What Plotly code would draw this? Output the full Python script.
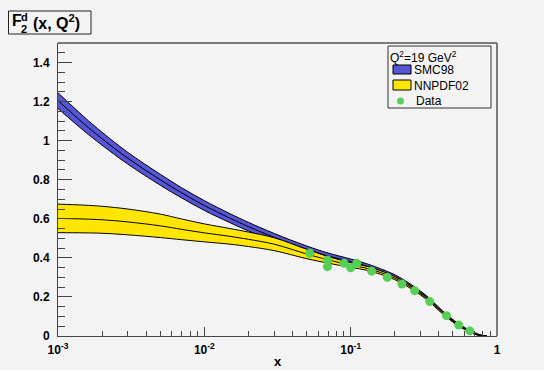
import plotly.graph_objects as go

# ---------------- data ----------------
x_grid = [0.001, 0.0015, 0.002, 0.003, 0.005, 0.007, 0.01, 0.015, 0.02, 0.03,
          0.05, 0.07, 0.1, 0.13, 0.16, 0.2, 0.25, 0.3, 0.35, 0.4, 0.45, 0.5,
          0.55, 0.6, 0.65, 0.7, 0.75, 0.8, 0.85]

smc98_central = [1.205, 1.087, 1.010, 0.910, 0.800, 0.733, 0.668, 0.603, 0.560, 0.505,
                 0.444, 0.410, 0.381, 0.357, 0.333, 0.304, 0.262, 0.222, 0.182, 0.140,
                 0.106, 0.078, 0.056, 0.039, 0.025, 0.014, 0.006, 0.001, 0.0]
smc98_error = [0.040, 0.036, 0.033, 0.030, 0.028, 0.026, 0.025, 0.023, 0.022, 0.020,
               0.017, 0.015, 0.013, 0.012, 0.011, 0.010, 0.009, 0.008, 0.008, 0.007,
               0.006, 0.006, 0.005, 0.005, 0.004, 0.004, 0.003, 0.002, 0.002]

nnpdf02_central = [0.602, 0.599, 0.595, 0.584, 0.564, 0.546, 0.528, 0.510, 0.495, 0.470,
                   0.420, 0.390, 0.363, 0.346, 0.325, 0.297, 0.256, 0.216, 0.177, 0.136,
                   0.103, 0.075, 0.053, 0.037, 0.024, 0.013, 0.005, 0.001, 0.0]
nnpdf02_error = [0.073, 0.071, 0.069, 0.066, 0.060, 0.053, 0.046, 0.040, 0.037, 0.033,
                 0.024, 0.017, 0.012, 0.010, 0.009, 0.008, 0.007, 0.006, 0.006, 0.005,
                 0.005, 0.004, 0.004, 0.003, 0.003, 0.002, 0.002, 0.001, 0.001]

data_x = [0.0525, 0.0694, 0.0694, 0.0901, 0.100, 0.110, 0.139, 0.178, 0.224,
          0.274, 0.347, 0.452, 0.548, 0.652]
data_y = [0.423, 0.389, 0.355, 0.372, 0.349, 0.372, 0.332, 0.300, 0.266,
          0.232, 0.176, 0.104, 0.056, 0.026]

x_tickvals = [0.001, 0.01, 0.1, 1]
x_ticktext = ["10<sup>-3</sup>", "10<sup>-2</sup>", "10<sup>-1</sup>", "1"]
x_minor = [m * d for d in (0.001, 0.01, 0.1) for m in range(2, 10)]

# ---------------- style ----------------
BG = "#f3f3f3"
BLUE = "#5555d5"
YELLOW = "#ffe600"
GREEN = "#55d055"
FONT = "Liberation Sans, Arial, sans-serif"

W, H = 544, 370
L, R, T, B = 58, 497, 43, 336


def pxx(x):
    return (x - L) / (R - L)


def pxy(y):
    return (B - y) / (B - T)


fig = go.Figure()

line_black = dict(color="black", width=1, shape="spline", smoothing=1.0)


def add_band(center, err, color):
    lo = [c - e for c, e in zip(center, err)]
    hi = [c + e for c, e in zip(center, err)]
    fig.add_trace(go.Scatter(x=x_grid, y=lo, mode="lines", line=line_black,
                             showlegend=False, hoverinfo="skip"))
    fig.add_trace(go.Scatter(x=x_grid, y=hi, mode="lines", line=line_black,
                             fill="tonexty", fillcolor=color,
                             showlegend=False, hoverinfo="skip"))
    fig.add_trace(go.Scatter(x=x_grid, y=center, mode="lines", line=line_black,
                             showlegend=False, hoverinfo="skip"))


add_band(smc98_central, smc98_error, BLUE)
add_band(nnpdf02_central, nnpdf02_error, YELLOW)

fig.add_trace(go.Scatter(x=data_x, y=data_y, mode="markers",
                         marker=dict(color=GREEN, size=9, line=dict(width=0)),
                         showlegend=False))

axis_font = dict(family=FONT, size=12, color="black", weight="bold")

fig.update_layout(
    width=W, height=H,
    margin=dict(l=L, r=W - R, t=T, b=H - B, autoexpand=False),
    paper_bgcolor=BG, plot_bgcolor=BG,
    showlegend=False,
    xaxis=dict(type="log", range=[-3, 0], tickvals=x_tickvals, ticktext=x_ticktext,
               automargin=False,
               ticks="inside", ticklen=9, tickcolor="#444", tickwidth=1,
               ticklabelstandoff=3,
               minor=dict(tickvals=x_minor, ticks="inside", ticklen=5,
                          tickcolor="#444", tickwidth=1, showgrid=False),
               showgrid=False, zeroline=False, showline=True, linecolor="#444",
               linewidth=1, tickfont=axis_font),
    yaxis=dict(range=[0, 1.5], tick0=0, dtick=0.2, automargin=False,
               ticks="inside", ticklen=14, tickcolor="#444", tickwidth=1,
               ticklabelstandoff=5,
               minor=dict(dtick=0.05, ticks="inside", ticklen=7,
                          tickcolor="#444", tickwidth=1, showgrid=False),
               showgrid=False, zeroline=False, showline=True, linecolor="#444",
               linewidth=1, tickfont=axis_font),
)

shapes = []
# frame top and right
shapes.append(dict(type="line", xref="paper", yref="paper", x0=0, x1=1, y0=1, y1=1,
                   line=dict(color="#7a7a7a", width=2)))
shapes.append(dict(type="line", xref="paper", yref="paper", x0=1, x1=1, y0=0, y1=1,
                   line=dict(color="#7a7a7a", width=2)))
# legend box
shapes.append(dict(type="rect", xref="paper", yref="paper",
                   x0=pxx(388), x1=pxx(491), y0=pxy(108), y1=pxy(46),
                   line=dict(color="#333", width=1), fillcolor=BG))
# legend swatches
shapes.append(dict(type="rect", xref="paper", yref="paper",
                   x0=pxx(393), x1=pxx(411), y0=pxy(74), y1=pxy(65),
                   line=dict(color="black", width=1), fillcolor=BLUE))
shapes.append(dict(type="rect", xref="paper", yref="paper",
                   x0=pxx(393), x1=pxx(411), y0=pxy(90), y1=pxy(80),
                   line=dict(color="black", width=1), fillcolor=YELLOW))
shapes.append(dict(type="circle", xref="paper", yref="paper",
                   x0=pxx(397), x1=pxx(404), y0=pxy(104.5), y1=pxy(97.5),
                   line=dict(color=GREEN, width=0), fillcolor=GREEN))
# title box
shapes.append(dict(type="rect", xref="paper", yref="paper",
                   x0=pxx(8.5), x1=pxx(91), y0=pxy(34), y1=pxy(11),
                   line=dict(color="#222", width=1), fillcolor=BG))

leg_font = dict(family=FONT, size=12, color="black")
tit_font = dict(family=FONT, size=16, color="black", weight="bold")
tit_small = dict(family=FONT, size=11, color="black", weight="bold")

annotations = [
    dict(text="Q<sup>2</sup>=19 GeV<sup>2</sup>", x=pxx(388), y=pxy(56.5),
         xanchor="left", yanchor="middle", font=leg_font),
    dict(text="SMC98", x=pxx(412), y=pxy(70), xanchor="left", yanchor="middle",
         font=leg_font),
    dict(text="NNPDF02", x=pxx(412), y=pxy(85.5), xanchor="left", yanchor="middle",
         font=leg_font),
    dict(text="Data", x=pxx(414), y=pxy(101), xanchor="left", yanchor="middle",
         font=leg_font),
    dict(text="F", x=pxx(10), y=pxy(21), xanchor="left", yanchor="middle",
         font=tit_font),
    dict(text="d", x=pxx(19), y=pxy(17), xanchor="left", yanchor="middle",
         font=tit_small),
    dict(text="2", x=pxx(19), y=pxy(28.5), xanchor="left", yanchor="middle",
         font=tit_small),
    dict(text="(x, Q<sup>2</sup>)", x=pxx(31), y=pxy(22), xanchor="left",
         yanchor="middle", font=tit_font),
    dict(text="x", x=pxx(278), y=pxy(361), xanchor="center", yanchor="middle",
         font=dict(family=FONT, size=13, color="black", weight="bold")),
]
for a in annotations:
    a.update(xref="paper", yref="paper", showarrow=False)

fig.update_layout(shapes=shapes, annotations=annotations)

fig.write_html("out.html")
